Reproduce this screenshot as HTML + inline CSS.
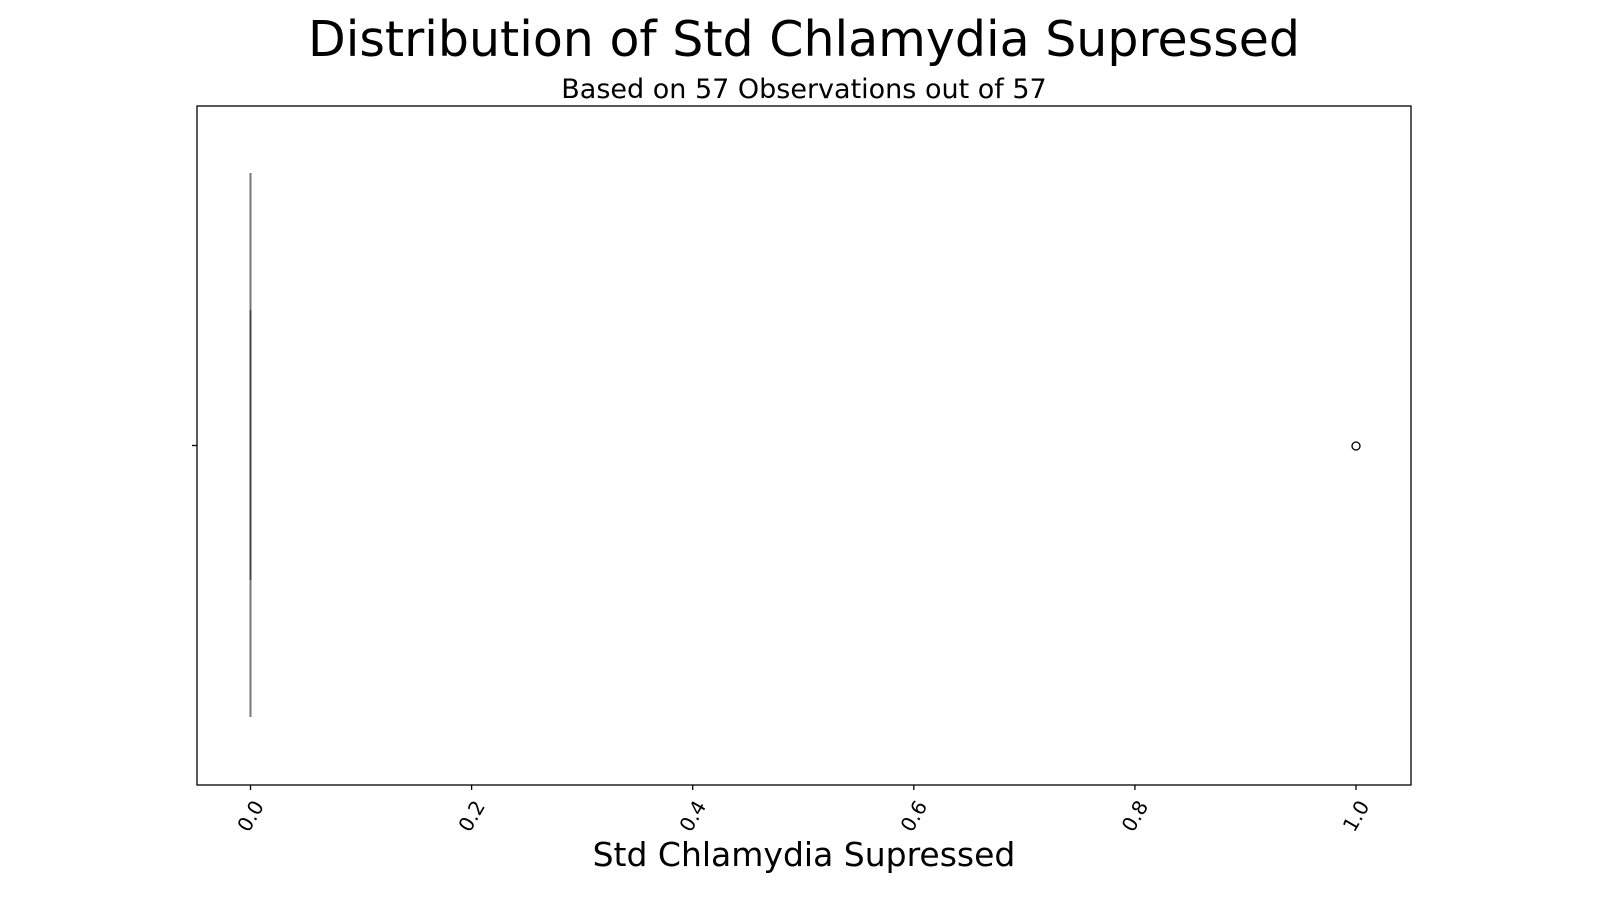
<!DOCTYPE html>
<html><head><meta charset="utf-8"><style>
html,body{margin:0;padding:0;background:#fff;}
svg{display:block;font-family:"DejaVu Sans","Liberation Sans",sans-serif;}
</style></head><body>
<svg id="chart" width="1600" height="900" viewBox="0 0 1600 900">
<text x="804" y="56" font-size="49" text-anchor="middle">Distribution of Std Chlamydia Supressed</text>
<text x="804" y="98" font-size="27" text-anchor="middle">Based on 57 Observations out of 57</text>
<g id="plot"></g>
<rect x="197" y="106" width="1214" height="679" fill="none" stroke="#000" stroke-width="1.3"/>
<line x1="192" y1="445.5" x2="197" y2="445.5" stroke="#000" stroke-width="1.3"/>
<text x="804" y="866" font-size="33" text-anchor="middle">Std Chlamydia Supressed</text>
</svg>
<script>
const ticks = [0, 0.2, 0.4, 0.6, 0.8, 1.0];
const tickLabels = ["0.0", "0.2", "0.4", "0.6", "0.8", "1.0"];
const whiskerRange = [0, 0];
const boxRange = [0, 0];
const medianValue = [0];
const outliers = [1.0];

const NS = "http://www.w3.org/2000/svg";
const svg = document.getElementById("chart");
const plot = document.getElementById("plot");
function xs(v){ return 250.5 + v * 1105.5; }
function mk(tag, attrs, parent){
  const e = document.createElementNS(NS, tag);
  for (const k in attrs) e.setAttribute(k, attrs[k]);
  (parent || plot).appendChild(e);
  return e;
}
ticks.forEach((t, i) => {
  const x = xs(t);
  const tl = mk("line", {x1:x, y1:785, x2:x, y2:790, stroke:"#000", "stroke-width":1.3}, svg);
  
  
  const tx = mk("text", {x:x, y:823, "font-size":20, "text-anchor":"middle",
    transform:"rotate(-60 " + x + " 816)"}, svg);
  tx.textContent = tickLabels[i];
  
  
});
const w = mk("line", {x1:xs(whiskerRange[0]), y1:173, x2:xs(whiskerRange[1]), y2:717, stroke:"#777", "stroke-width":2});


const b = mk("rect", {x:xs(boxRange[0]) - 1, y:310, width:Math.max(2, xs(boxRange[1]) - xs(boxRange[0]) + 2), height:270, fill:"#444"});


outliers.forEach(v => {
  const c = mk("circle", {cx:xs(v), cy:446, r:4, fill:"none", stroke:"#000", "stroke-width":1.3});
  
  
});
</script>
</body></html>
